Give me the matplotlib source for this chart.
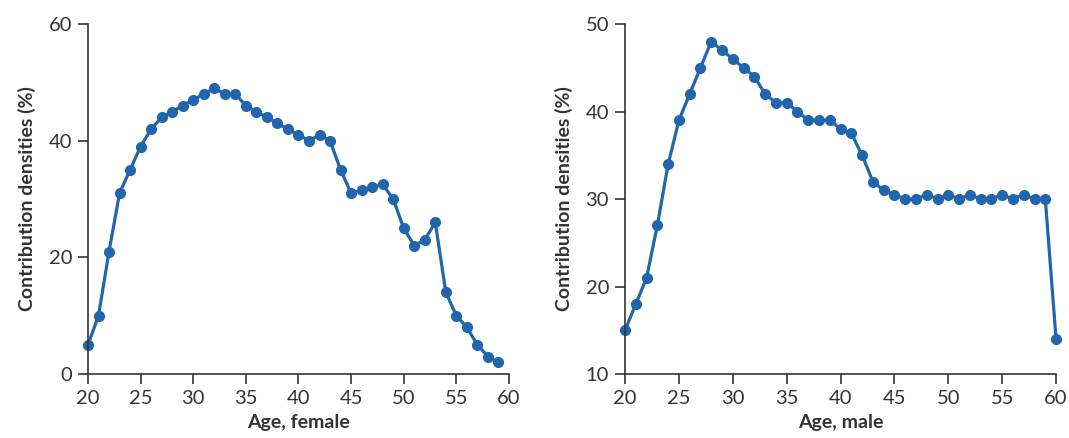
import matplotlib
matplotlib.use("Agg")
import matplotlib.pyplot as plt

# contribution densities by age
female_ages = list(range(20, 60))
female_density = [5, 10, 21, 31, 35, 39, 42, 44, 45, 46,
                  47, 48, 49, 48, 48, 46, 45, 44, 43, 42,
                  41, 40, 41, 40, 35, 31, 31.5, 32, 32.5, 30,
                  25, 22, 23, 26, 14, 10, 8, 5, 3, 2]

male_ages = list(range(20, 61))
male_density = [15, 18, 21, 27, 34, 39, 42, 45, 48, 47,
                46, 45, 44, 42, 41, 41, 40, 39, 39, 39,
                38, 37.5, 35, 32, 31, 30.5, 30, 30, 30.5, 30,
                30.5, 30, 30.5, 30, 30, 30.5, 30, 30.5, 30, 30,
                14]

x_ticks = [20, 25, 30, 35, 40, 45, 50, 55, 60]
female_yticks = [0, 20, 40, 60]
male_yticks = [10, 20, 30, 40, 50]

BLUE = "#2166ac"
DARK = "#333333"

plt.rcParams["font.family"] = ["Lato", "DejaVu Sans"]

fig = plt.figure(figsize=(10.69, 4.38), dpi=100)
ax1 = fig.add_axes([0.0823, 0.1461, 0.3938, 0.7991])
ax2 = fig.add_axes([0.5847, 0.1461, 0.4032, 0.7991])


def style_axis(ax, xs, ys, yticks, xlabel):
    ax.plot(xs, ys, color=BLUE, lw=2.3, marker="o", ms=7, clip_on=False)
    ax.set_xlim(20, 60)
    ax.set_ylim(yticks[0], yticks[-1])
    ax.set_xticks(x_ticks)
    ax.set_yticks(yticks)
    for side in ("top", "right"):
        ax.spines[side].set_visible(False)
    for side in ("left", "bottom"):
        ax.spines[side].set_color(DARK)
        ax.spines[side].set_linewidth(1.2)
    ax.tick_params(length=7.5, width=1.2, color=DARK, labelcolor=DARK,
                   labelsize=14.5, pad=4)
    ax.set_xlabel(xlabel, fontsize=14, fontweight="bold", color=DARK, labelpad=5)
    ax.set_ylabel("Contribution densities (%)", fontsize=14, fontweight="bold",
                  color=DARK, labelpad=9)


style_axis(ax1, female_ages, female_density, female_yticks, "Age, female")
style_axis(ax2, male_ages, male_density, male_yticks, "Age, male")

fig.savefig("out.png", dpi=100)
